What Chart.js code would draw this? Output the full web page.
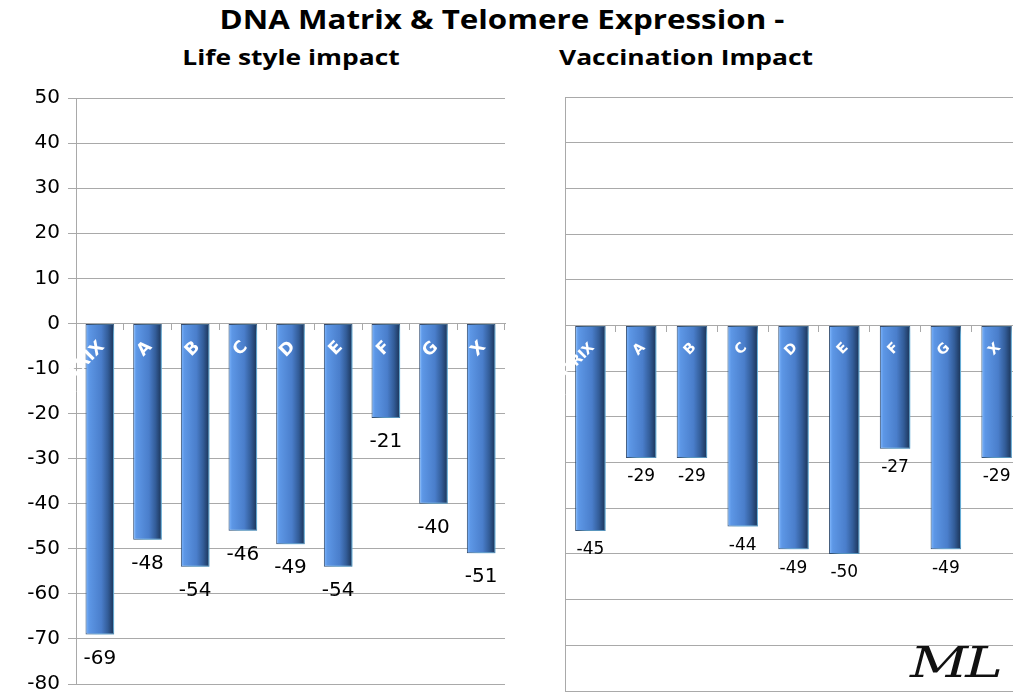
<!DOCTYPE html>
<html>
<head>
<meta charset="utf-8">
<script src="https://cdn.jsdelivr.net/npm/chart.js@4.4.0/dist/chart.umd.min.js"></script>
<style>
  body { margin: 0; width: 1013px; height: 695px; overflow: hidden; background: #fff; position: relative; font-family: 'Open Sans', sans-serif; }
  .t { position: absolute; font-weight: bold; white-space: nowrap; transform: translateX(-50%) scaleX(1.2); color: #000; }
  #mainTitle { left: 502px; top: 0px; font-size: 27px; transform: translateX(-50%) scaleX(1.16); }
  #subLeft { left: 291px; top: 41px; font-size: 22px; }
  #subRight { left: 686px; top: 41px; font-size: 22px; }
  .box { position: absolute; }
  #leftBox { left: 0; top: 78px; width: 520px; height: 626px; }
  #rightBox { left: 545px; top: 80px; width: 490px; height: 630px; }
  #sig { position: absolute; left: 910px; top: 638px; font-family: 'DejaVu Serif', serif; font-style: italic; font-size: 42px; color: #111; letter-spacing: -2px; transform: scaleX(1.35); transform-origin: left top; }
</style>
</head>
<body>
<div class="t" id="mainTitle">DNA Matrix &amp; Telomere Expression -</div>
<div class="t" id="subLeft">Life style impact</div>
<div class="t" id="subRight">Vaccination Impact</div>
<div class="box" id="leftBox"><canvas id="lifeChart"></canvas></div>
<div class="box" id="rightBox"><canvas id="vaccChart"></canvas></div>
<div id="sig">ML</div>
<script>
var categories = ['MATRIX', 'A', 'B', 'C', 'D', 'E', 'F', 'G', 'X'];
var lifestyleValues = [-69, -48, -54, -46, -49, -54, -21, -40, -51];
var vaccinationValues = [-45, -29, -29, -44, -49, -50, -27, -49, -29];
var yMin = -80;
var yMax = 50;
var yStep = 10;

var GRID = '#a9a9a9';

function barFill(c) {
  var chart = c.chart;
  var xs = chart.scales.x;
  if (!xs || !chart.chartArea) return '#4f81bd';
  var cx = xs.getPixelForValue(c.dataIndex);
  var w = (xs.right - xs.left) / categories.length * 0.6;
  var g = chart.ctx.createLinearGradient(cx - w / 2, 0, cx + w / 2, 0);
  g.addColorStop(0, '#80b8ff');
  g.addColorStop(0.12, '#5d97e6');
  g.addColorStop(0.55, '#4a7ecb');
  g.addColorStop(0.78, '#335d99');
  g.addColorStop(1, '#1a3255');
  return g;
}

// soft cyan glow behind the bars
var glowPlugin = {
  id: 'glow',
  beforeDatasetDraw: function(chart) {
    var ctx = chart.ctx;
    ctx.save();
    ctx.shadowColor = 'rgba(120, 210, 255, 0.9)';
    ctx.shadowBlur = 8;
    ctx.shadowOffsetX = 5;
    ctx.shadowOffsetY = 2;
  },
  afterDatasetDraw: function(chart) {
    chart.ctx.restore();
  }
};

// white rotated category names inside the bars + value labels under them
var labelPlugin = {
  id: 'barLabels',
  afterDatasetsDraw: function(chart, args, opts) {
    var ctx = chart.ctx;
    var meta = chart.getDatasetMeta(0);
    var zeroY = chart.scales.y.getPixelForValue(0);
    var values = chart.data.datasets[0].data;
    meta.data.forEach(function(el, i) {
      ctx.save();
      ctx.translate(el.x + opts.catDx, zeroY + opts.catDy);
      ctx.rotate(-Math.PI / 4);
      ctx.fillStyle = '#fff';
      ctx.font = 'bold ' + opts.catSize + 'px "DejaVu Sans"';
      ctx.textAlign = 'right';
      ctx.textBaseline = 'middle';
      ctx.fillText(categories[i], 0, 0);
      ctx.restore();

      ctx.save();
      ctx.fillStyle = '#000';
      ctx.font = opts.valSize + 'px "DejaVu Sans"';
      ctx.textAlign = 'center';
      ctx.textBaseline = 'middle';
      ctx.fillText(String(values[i]), el.x, el.y + opts.valDy);
      ctx.restore();
    });
  }
};

function makeChart(id, values, cfg) {
  return new Chart(document.getElementById(id).getContext('2d'), {
    type: 'bar',
    data: {
      labels: categories,
      datasets: [{
        data: values,
        backgroundColor: barFill,
        borderColor: 'rgba(28, 50, 86, 0.9)',
        borderWidth: 1,
        borderSkipped: false,
        categoryPercentage: 1,
        barPercentage: 0.6
      }]
    },
    options: {
      responsive: true,
      maintainAspectRatio: false,
      animation: false,
      layout: { padding: cfg.padding },
      plugins: {
        legend: { display: false },
        tooltip: { enabled: false },
        barLabels: cfg.labels
      },
      scales: {
        x: {
          position: { y: 0 },
          ticks: { display: false },
          grid: { drawOnChartArea: false, drawTicks: true, tickLength: 6, color: GRID },
          border: { display: true, color: GRID }
        },
        y: {
          min: yMin,
          max: yMax,
          afterFit: function(s) { s.width = cfg.axisWidth; },
          ticks: {
            display: cfg.showTicks,
            stepSize: yStep,
            padding: 8,
            color: '#000',
            font: { family: 'DejaVu Sans', size: 20 }
          },
          grid: { color: GRID, drawTicks: cfg.showTicks, tickLength: 8 },
          border: { display: true, color: GRID }
        }
      }
    },
    plugins: [glowPlugin, labelPlugin]
  });
}

makeChart('lifeChart', lifestyleValues, {
  padding: { top: 16, bottom: 16, left: 0, right: 15 },
  axisWidth: 76,
  showTicks: true,
  labels: { catDx: 2, catDy: 21, catSize: 17, valSize: 20, valDy: 24 }
});

makeChart('vaccChart', vaccinationValues, {
  padding: { top: 17, bottom: 19, left: 0, right: 13 },
  axisWidth: 20,
  showTicks: false,
  labels: { catDx: 2, catDy: 20, catSize: 14, valSize: 17, valDy: 19 }
});
</script>
</body>
</html>
